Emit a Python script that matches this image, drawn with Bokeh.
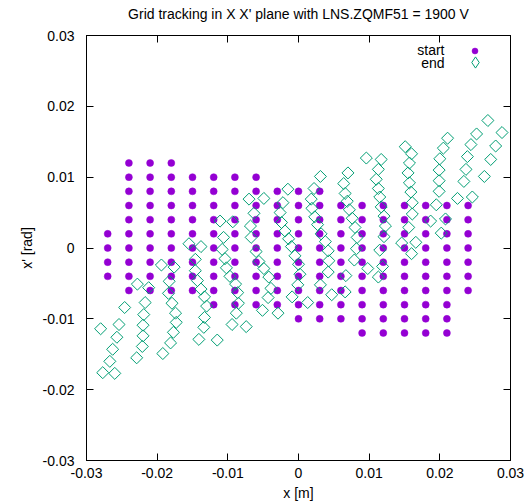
import math
from bokeh.plotting import figure
from bokeh.models import (LinearAxis, Range1d, FixedTicker, Legend, LegendItem, Label,
                          PrintfTickFormatter, ColumnDataSource)
from bokeh.embed import file_html
from bokeh.resources import INLINE

# ---------------- data ----------------
title_text = "Grid tracking in X X' plane with LNS.ZQMF51 = 1900 V"
x_label = "x [m]"
y_label = "x' [rad]"
series_names = ["start", "end"]
tick_values = [-0.03, -0.02, -0.01, 0.0, 0.01, 0.02, 0.03]

# start grid: x position of each column and the x' values in that column
start_col_x = [-0.027, -0.024, -0.021, -0.018, -0.015, -0.012, -0.009, -0.006, -0.003,
               0.000, 0.003, 0.006, 0.009, 0.012, 0.015, 0.018, 0.021, 0.024]
start_col_xp = [
    [0.002, 0.000, -0.002, -0.004],
    [0.012, 0.010, 0.008, 0.006, 0.004, 0.002, 0.000, -0.002, -0.004, -0.006],
    [0.012, 0.010, 0.008, 0.006, 0.004, 0.002, 0.000, -0.002, -0.004, -0.006],
    [0.012, 0.010, 0.008, 0.006, 0.004, 0.002, 0.000, -0.002, -0.004, -0.006],
    [0.010, 0.008, 0.006, 0.004, 0.002, 0.000, -0.002, -0.004, -0.006],
    [0.010, 0.008, 0.006, 0.004, 0.002, 0.000, -0.002, -0.004, -0.006, -0.008],
    [0.010, 0.008, 0.006, 0.004, 0.002, 0.000, -0.002, -0.004, -0.006, -0.008],
    [0.010, 0.008, 0.006, 0.004, 0.002, 0.000, -0.002, -0.004, -0.006, -0.008],
    [0.008, 0.006, 0.004, 0.002, 0.000, -0.002, -0.004, -0.006, -0.008],
    [0.008, 0.006, 0.004, 0.002, 0.000, -0.002, -0.004, -0.006, -0.008, -0.010],
    [0.008, 0.006, 0.004, 0.002, 0.000, -0.002, -0.004, -0.006, -0.008, -0.010],
    [0.006, 0.004, 0.002, 0.000, -0.002, -0.004, -0.006, -0.008, -0.010],
    [0.006, 0.004, 0.002, 0.000, -0.002, -0.004, -0.006, -0.008, -0.010, -0.012],
    [0.006, 0.004, 0.002, 0.000, -0.002, -0.004, -0.006, -0.008, -0.010, -0.012],
    [0.006, 0.004, 0.002, 0.000, -0.002, -0.004, -0.006, -0.008, -0.010, -0.012],
    [0.006, 0.004, 0.002, 0.000, -0.002, -0.004, -0.006, -0.008, -0.010, -0.012],
    [0.006, 0.004, 0.002, 0.000, -0.002, -0.004, -0.006, -0.008, -0.010, -0.012],
    [0.006, 0.004, 0.002, 0.000, -0.002, -0.004, -0.006],
]

# end points
end_x = [
    -0.0246, -0.0254, -0.0280, -0.0257, -0.0263, -0.0267, -0.0277, -0.0260,
    -0.0228, -0.0212, -0.0217, -0.0219, -0.0220, -0.0220, -0.0221, -0.0229,
    -0.0194, -0.0176, -0.0183, -0.0184, -0.0179, -0.0174, -0.0173, -0.0177, -0.0181, -0.0192,
    -0.0155, -0.0138, -0.0146, -0.0146, -0.0143, -0.0138, -0.0133, -0.0130, -0.0133, -0.0134, -0.0141, -0.0115,
    -0.0111, -0.0093, -0.0106, -0.0108, -0.0104, -0.0102, -0.0097, -0.0089, -0.0086, -0.0085, -0.0088, -0.0094, -0.0074,
    -0.0070, -0.0049, -0.0063, -0.0068, -0.0067, -0.0060, -0.0056, -0.0049, -0.0042, -0.0039, -0.0043, -0.0051, -0.0029,
    -0.0015, -0.0022, -0.0026, -0.0024, -0.0019, -0.0014, -0.0010, -0.0005, 0.0000, 0.0002, -0.0001, -0.0009, 0.0013,
    0.0031, 0.0022, 0.0018, 0.0019, 0.0023, 0.0027, 0.0032, 0.0038, 0.0042, 0.0043, 0.0042, 0.0031, 0.0047,
    0.0070, 0.0064, 0.0066, 0.0069, 0.0072, 0.0076, 0.0080, 0.0083, 0.0082, 0.0079, 0.0067, 0.0066, 0.0098,
    0.0096, 0.0117, 0.0113, 0.0110, 0.0113, 0.0115, 0.0117, 0.0121, 0.0123, 0.0121, 0.0115, 0.0119, 0.0113,
    0.0151, 0.0160, 0.0157, 0.0155, 0.0157, 0.0159, 0.0161, 0.0161, 0.0156, 0.0146, 0.0166, 0.0160,
    0.0211, 0.0205, 0.0200, 0.0199, 0.0199, 0.0199, 0.0195, 0.0187, 0.0208, 0.0202,
    0.0268, 0.0288, 0.0252, 0.0279, 0.0244, 0.0272, 0.0239, 0.0237, 0.0263, 0.0234, 0.0225, 0.0246,
]
end_xp = [
    -0.0084, -0.0108, -0.0114, -0.0126, -0.0143, -0.0160, -0.0176, -0.0177,
    -0.0051, -0.0056, -0.0077, -0.0094, -0.0109, -0.0124, -0.0139, -0.0155,
    -0.0024, -0.0027, -0.0047, -0.0064, -0.0078, -0.0092, -0.0105, -0.0119, -0.0134, -0.0149,
    0.0006, 0.0002, -0.0016, -0.0032, -0.0046, -0.0058, -0.0069, -0.0082, -0.0098, -0.0112, -0.0129, -0.0130,
    0.0038, 0.0037, 0.0015, -0.0002, -0.0015, -0.0028, -0.0040, -0.0051, -0.0063, -0.0078, -0.0092, -0.0108, -0.0111,
    0.0069, 0.0070, 0.0049, 0.0031, 0.0015, -0.0005, -0.0019, -0.0029, -0.0041, -0.0057, -0.0070, -0.0088, -0.0092,
    0.0083, 0.0064, 0.0050, 0.0036, 0.0024, 0.0013, 0.0002, -0.0011, -0.0023, -0.0037, -0.0052, -0.0069, -0.0077,
    0.0101, 0.0084, 0.0069, 0.0056, 0.0044, 0.0033, 0.0020, 0.0009, -0.0004, -0.0018, -0.0034, -0.0052, -0.0066,
    0.0106, 0.0091, 0.0077, 0.0066, 0.0054, 0.0042, 0.0029, 0.0015, -0.0001, -0.0017, -0.0039, -0.0062, -0.0029,
    0.0127, 0.0125, 0.0111, 0.0097, 0.0084, 0.0072, 0.0058, 0.0045, 0.0031, 0.0016, -0.0003, -0.0026, -0.0041,
    0.0143, 0.0133, 0.0120, 0.0106, 0.0092, 0.0079, 0.0064, 0.0048, 0.0029, 0.0007, 0.0008, -0.0008,
    0.0155, 0.0141, 0.0126, 0.0110, 0.0095, 0.0080, 0.0061, 0.0038, 0.0041, 0.0021,
    0.0180, 0.0163, 0.0161, 0.0144, 0.0146, 0.0125, 0.0129, 0.0111, 0.0101, 0.0094, 0.0070, 0.0072,
]

# ---------------- build ----------------
start_x, start_xp = [], []
for cx, col in zip(start_col_x, start_col_xp):
    for v in col:
        start_x.append(cx)
        start_xp.append(v)

FONT = "Liberation Sans"
START_COLOR = "#9400d3"
END_COLOR = "#009e73"

p = figure(width=530, height=504, output_backend="svg", toolbar_location=None,
           x_range=Range1d(-0.03, 0.03), y_range=Range1d(-0.03, 0.03),
           min_border_left=86, min_border_right=20, min_border_top=35, min_border_bottom=44,
           x_axis_label=x_label, y_axis_label=y_label)
p.background_fill_color = "white"
p.border_fill_color = "white"
p.outline_line_color = "black"
p.outline_line_width = 1
p.grid.visible = False
p.title.visible = False

ticker = FixedTicker(ticks=tick_values)
fmt = PrintfTickFormatter(format="%g")

for ax in [p.xaxis[0], p.yaxis[0]]:
    ax.ticker = ticker
    ax.formatter = fmt
    ax.major_tick_in = 7
    ax.major_tick_out = 0
    ax.minor_tick_line_color = None
    ax.axis_line_color = "black"
    ax.major_tick_line_color = "black"
    ax.major_label_text_font = FONT
    ax.major_label_text_font_size = "14px"
    ax.major_label_text_color = "black"
    ax.axis_label_text_font = FONT
    ax.axis_label_text_font_size = "14px"
    ax.axis_label_text_font_style = "normal"
    ax.axis_label_text_color = "black"
p.xaxis[0].major_label_standoff = 7
p.xaxis[0].axis_label_standoff = 4
p.yaxis[0].major_label_standoff = 12
p.yaxis[0].axis_label_standoff = 5

blank = {v: "" for v in tick_values}
# mirrored top axis: carries the chart title as its label
top_ax = LinearAxis(ticker=ticker, formatter=fmt, major_tick_in=7, major_tick_out=0,
                    minor_tick_line_color=None, major_label_overrides=blank,
                    major_label_text_font_size="1px", major_label_standoff=0,
                    axis_line_color="black", major_tick_line_color="black",
                    axis_label=title_text, axis_label_standoff=14,
                    axis_label_text_font=FONT, axis_label_text_font_size="14px",
                    axis_label_text_font_style="normal", axis_label_text_color="black")
p.add_layout(top_ax, "above")
right_ax = LinearAxis(ticker=ticker, formatter=fmt, major_tick_in=7, major_tick_out=0,
                      minor_tick_line_color=None, major_label_overrides=blank,
                      major_label_text_font_size="1px", major_label_standoff=0,
                      axis_line_color="black", major_tick_line_color="black")
p.add_layout(right_ax, "right")

src_start = ColumnDataSource(dict(x=start_x, y=start_xp))
src_end = ColumnDataSource(dict(x=end_x, y=end_xp))

r_start = p.scatter("x", "y", source=src_start, marker="circle", size=7,
                    fill_color=START_COLOR, line_color=START_COLOR, line_width=0.5)
r_end = p.scatter("x", "y", source=src_end, marker="square", angle=math.pi / 4, size=8.5,
                  fill_color=None, line_color=END_COLOR, line_width=1)
# legend-only sample glyph for "end": same points, zero size in the plot
r_end_key = p.scatter("x", "y", source=src_end, marker="diamond", size=0,
                      fill_color=None, line_color=END_COLOR, line_width=1)

leg1 = Legend(items=[LegendItem(label=" ", renderers=[r_start])],
              location=(381, 402), glyph_width=15, glyph_height=15, label_height=15,
              label_width=1, label_standoff=0, padding=0, margin=0, spacing=0,
              border_line_color=None, background_fill_alpha=0,
              label_text_font=FONT, label_text_font_size="14px")
leg2 = Legend(items=[LegendItem(label=" ", renderers=[r_end_key])],
              location=(375, 384), glyph_width=28, glyph_height=28, label_height=28,
              label_width=1, label_standoff=0, padding=0, margin=0, spacing=0,
              border_line_color=None, background_fill_alpha=0,
              label_text_font=FONT, label_text_font_size="14px")
p.add_layout(leg1)
p.add_layout(leg2)

lab_start = Label(x=358, y=411, x_units="screen", y_units="screen", text=series_names[0],
                  text_align="right", text_baseline="middle", text_font=FONT,
                  text_font_size="14px", text_color="black")
lab_end = Label(x=358, y=398, x_units="screen", y_units="screen", text=series_names[1],
                text_align="right", text_baseline="middle", text_font=FONT,
                text_font_size="14px", text_color="black")
p.add_layout(lab_start)
p.add_layout(lab_end)

open("out.html", "w").write(file_html(p, INLINE))
